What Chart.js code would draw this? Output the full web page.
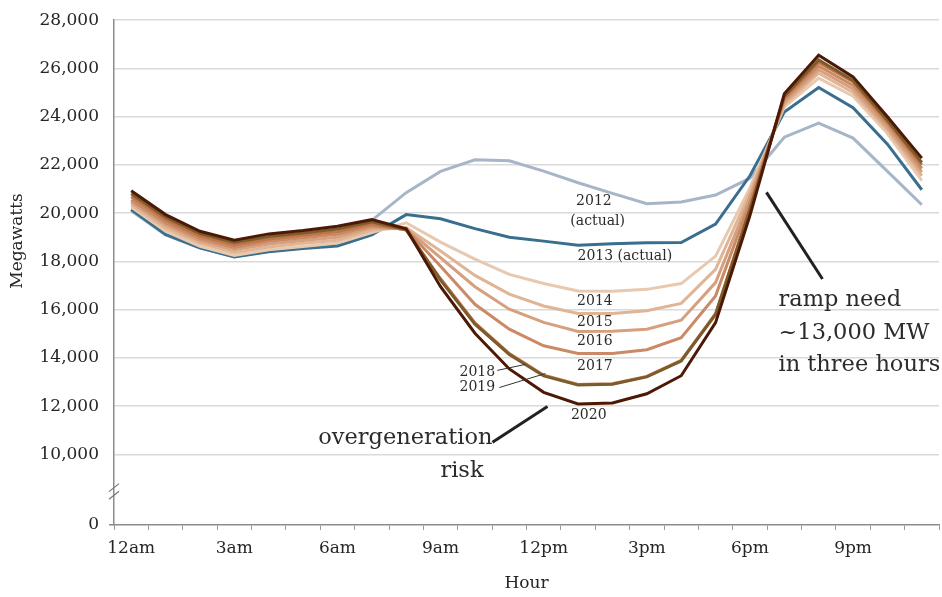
<!DOCTYPE html>
<html>
<head>
<meta charset="utf-8">
<script src="https://cdn.jsdelivr.net/npm/chart.js@4.4.0/dist/chart.umd.min.js"></script>
<style>
html, body { margin: 0; padding: 0; background: #fff; }
#wrap { width: 942px; height: 597px; }
</style>
</head>
<body>
<div id="wrap"><canvas id="duckChart" width="942" height="597"></canvas></div>
<script>
// hourly net load, MW
const hours = ['12am','1am','2am','3am','4am','5am','6am','7am','8am','9am','10am','11am',
               '12pm','1pm','2pm','3pm','4pm','5pm','6pm','7pm','8pm','9pm','10pm','11pm'];

const load2012 = [20100,19100,18550,18200,18420,18560,18720,19700,20850,21730,22210,22170,
                  21740,21260,20820,20390,20460,20750,21450,23150,23730,23110,21730,20350];
const load2013 = [20150,19120,18560,18180,18400,18530,18640,19100,19940,19770,19360,19000,
                  18840,18670,18730,18770,18780,19550,21550,24190,25210,24370,22860,20970];
const load2014 = [20250,19250,18620,18250,18480,18620,18760,19200,19600,18800,18090,17460,
                  17080,16770,16760,16840,17080,18220,21050,24400,25600,24850,23300,21350];
const load2015 = [20350,19380,18750,18370,18600,18750,18880,19300,19400,18430,17420,16640,
                  16150,15840,15840,15950,16260,17670,20850,24500,25800,25000,23450,21550];
const load2016 = [20450,19500,18850,18480,18720,18870,19000,19400,19350,18150,16950,16020,
                  15470,15090,15100,15190,15560,17120,20650,24600,25950,25150,23550,21700];
const load2017 = [20550,19600,18950,18580,18830,18980,19120,19480,19320,17800,16220,15190,
                  14500,14180,14180,14340,14840,16570,20450,24700,26100,25300,23700,21850];
const load2018 = [20680,19720,19050,18680,18930,19080,19230,19560,19300,17280,15450,14180,
                  13280,12900,12930,13230,13900,15830,20200,24800,26250,25450,23800,22000];
const load2019 = [20800,19830,19150,18780,19030,19180,19340,19640,19320,17220,15400,14140,
                  13250,12870,12910,13210,13870,15800,20150,24850,26350,25500,23850,22100];
const load2020 = [20930,19940,19250,18880,19140,19280,19460,19730,19350,16950,15020,13540,
                  12570,12090,12130,12510,13260,15460,19900,24950,26550,25650,24000,22280];

const yTicks = [10000,12000,14000,16000,18000,20000,22000,24000,26000,28000];
const axisFloor = 7070;   // value where "0" sits, below the axis break

const serif = "'DejaVu Serif', 'Liberation Serif', serif";

const series = [
    { label: '2020', data: load2020, color: '#4d1906' },
    { label: '2019', data: load2019, color: '#7d5c2c' },
    { label: '2018', data: load2018, color: '#bf7449' },
    { label: '2017', data: load2017, color: '#cb8a65' },
    { label: '2016', data: load2016, color: '#d6a07e' },
    { label: '2015', data: load2015, color: '#dfb595' },
    { label: '2014', data: load2014, color: '#e8c8ae' },
    { label: '2013 (actual)', data: load2013, color: '#3a6e8e' },
    { label: '2012 (actual)', data: load2012, color: '#a7b5c9' },
];

const annotations = {
    id: 'annotations',
    afterDraw(chart) {
        const ctx = chart.ctx;
        const xs = chart.scales.x, ys = chart.scales.y;
        const px = (i, v) => [xs.getPixelForValue(i), ys.getPixelForValue(v)];
        ctx.save();
        ctx.fillStyle = '#2b2b2b';

        // small year labels
        ctx.font = '14px ' + serif;
        ctx.textAlign = 'center';
        ctx.textBaseline = 'middle';
        const small = [
            ['2012', 13.46, 20490], ['(actual)', 13.57, 19660], ['2013 (actual)', 14.36, 18220],
            ['2014', 13.49, 16360], ['2015', 13.49, 15490], ['2016', 13.49, 14670],
            ['2017', 13.49, 13660], ['2018', 10.07, 13390], ['2019', 10.07, 12770],
            ['2020', 13.31, 11630]
        ];
        for (const [t, i, v] of small) {
            const [x, y] = px(i, v);
            ctx.fillText(t, x, y);
        }

        const line = (a, b, w, c) => {
            const p = px(a[0], a[1]), q = px(b[0], b[1]);
            ctx.beginPath();
            ctx.moveTo(p[0], p[1]);
            ctx.lineTo(q[0], q[1]);
            ctx.lineWidth = w;
            ctx.strokeStyle = c;
            ctx.stroke();
        };
        line([10.65, 13480], [11.47, 13730], 1, '#333');
        line([10.71, 12770], [12.05, 13350], 1, '#333');
        line([10.51, 10500], [12.11, 11980], 3, '#222');
        line([18.48, 20860], [20.11, 17270], 3, '#222');

        // big notes
        ctx.font = '22.5px ' + serif;
        ctx.textBaseline = 'alphabetic';
        ctx.textAlign = 'right';
        let p = px(10.51, 10410); ctx.fillText('overgeneration', p[0], p[1]);
        p = px(10.25, 9050); ctx.fillText('risk', p[0], p[1]);
        ctx.textAlign = 'left';
        p = px(18.83, 16150); ctx.fillText('ramp need', p[0], p[1]);
        p = px(18.83, 14790); ctx.fillText('~13,000 MW', p[0], p[1]);
        p = px(18.83, 13470); ctx.fillText('in three hours', p[0], p[1]);

        // axis break marks
        const ax = xs.left;
        for (const v of [8620, 8300]) {
            const y = ys.getPixelForValue(v);
            ctx.beginPath();
            ctx.moveTo(ax - 5, y + 4);
            ctx.lineTo(ax + 5, y - 4);
            ctx.lineWidth = 1.2;
            ctx.strokeStyle = '#777';
            ctx.stroke();
        }

        // axis titles
        ctx.font = '17px ' + serif;
        ctx.textAlign = 'center';
        ctx.textBaseline = 'middle';
        ctx.fillStyle = '#262626';
        ctx.fillText('Hour', (xs.left + xs.right) / 2, 584);
        ctx.translate(18, 241);
        ctx.rotate(-Math.PI / 2);
        ctx.fillText('Megawatts', 0, 0);
        ctx.restore();
    }
};

new Chart(document.getElementById('duckChart'), {
    type: 'line',
    data: {
        labels: hours,
        datasets: series.map(s => ({
            label: s.label,
            data: s.data,
            borderColor: s.color,
            backgroundColor: s.color,
            borderWidth: 3,
            pointRadius: 0,
            tension: 0,
            fill: false
        }))
    },
    options: {
        responsive: false,
        animation: false,
        layout: { padding: { left: 0, right: 3, top: 19, bottom: 0 } },
        plugins: {
            legend: { display: false },
            tooltip: { enabled: false },
            title: { display: false }
        },
        scales: {
            x: {
                type: 'category',
                offset: true,
                grid: { offset: true, drawOnChartArea: false, tickLength: 5, color: '#9a9a9a', lineWidth: 1 },
                border: { color: '#8c8c8c', width: 1.5 },
                afterFit: (scale) => { scale.height = 72; },
                ticks: {
                    autoSkip: false,
                    maxRotation: 0,
                    padding: 8,
                    color: '#262626',
                    font: { family: serif, size: 17 },
                    callback: (val, idx) => idx % 3 === 0 ? hours[idx] : ''
                }
            },
            y: {
                min: axisFloor,
                max: 28000,
                afterBuildTicks: (scale) => {
                    scale.ticks = [axisFloor, ...yTicks].map(v => ({ value: v }));
                },
                afterFit: (scale) => { scale.width = 114; },
                grid: {
                    tickLength: 5,
                    lineWidth: 1.5,
                    color: (c) => c.tick && c.tick.value === axisFloor ? 'rgba(0,0,0,0)' : '#dadada',
                    tickColor: (c) => c.tick && c.tick.value === axisFloor ? '#8c8c8c' : 'rgba(0,0,0,0)'
                },
                border: { color: '#8c8c8c', width: 1.5 },
                ticks: {
                    padding: 10,
                    color: '#262626',
                    font: { family: serif, size: 17 },
                    callback: (v) => v === axisFloor ? '0' : v.toLocaleString('en-US')
                }
            }
        }
    },
    plugins: [annotations]
});
</script>
</body>
</html>
